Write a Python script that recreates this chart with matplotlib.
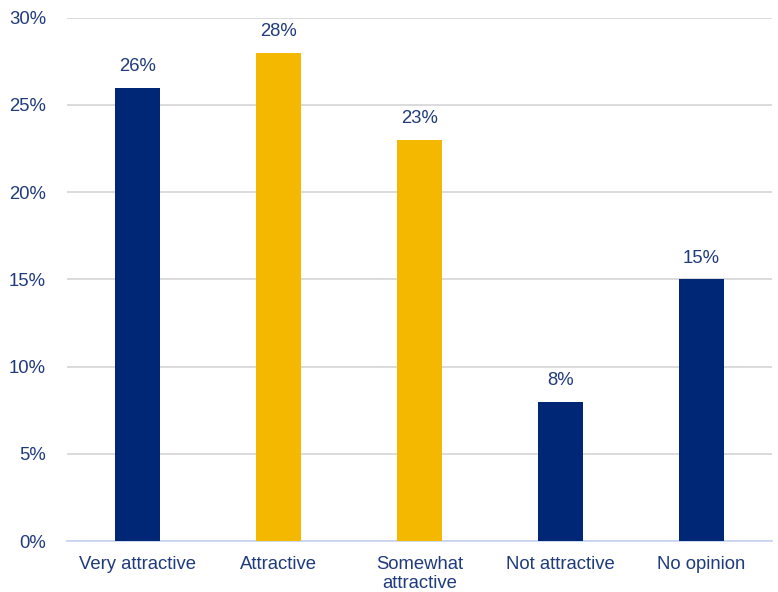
import matplotlib.pyplot as plt
from matplotlib.ticker import PercentFormatter

plt.rcParams['font.family'] = ['Liberation Sans', 'DejaVu Sans']

categories = ['Very attractive', 'Attractive', 'Somewhat\nattractive', 'Not attractive', 'No opinion']
values = [26, 28, 23, 8, 15]
colors = ['#002776', '#f5b800', '#f5b800', '#002776', '#002776']
text_color = '#1f3a7d'

fig = plt.figure(figsize=(7.78, 5.92), dpi=100)
ax = fig.add_axes([0.086, 0.086, 0.906, 0.884])

x = range(len(categories))
bars = ax.bar(x, values, width=0.32, color=colors, zorder=3)

# 数值标签
for b, v in zip(bars, values):
    ax.text(b.get_x() + b.get_width() / 2, v + 1.2, f'{v}%', ha='center', va='center',
            fontsize=13.3, color=text_color)

ax.set_xlim(-0.5, len(categories) - 0.5)
ax.set_ylim(0, 30)
ax.set_yticks(range(0, 31, 5))
ax.yaxis.set_major_formatter(PercentFormatter(decimals=0))
ax.set_xticks(list(x))
ax.set_xticklabels(categories, linespacing=1.1)

ax.grid(axis='y', color='#d4d4d4', linewidth=1.2, zorder=0)
for s in ['top', 'right', 'left']:
    ax.spines[s].set_visible(False)
ax.spines['bottom'].set_color('#c5d3f0')
ax.spines['bottom'].set_linewidth(1.2)
ax.tick_params(axis='both', length=0, labelsize=13.3, colors=text_color)
ax.tick_params(axis='y', pad=15)
ax.tick_params(axis='x', pad=11)

plt.savefig('out.png', dpi=100)
